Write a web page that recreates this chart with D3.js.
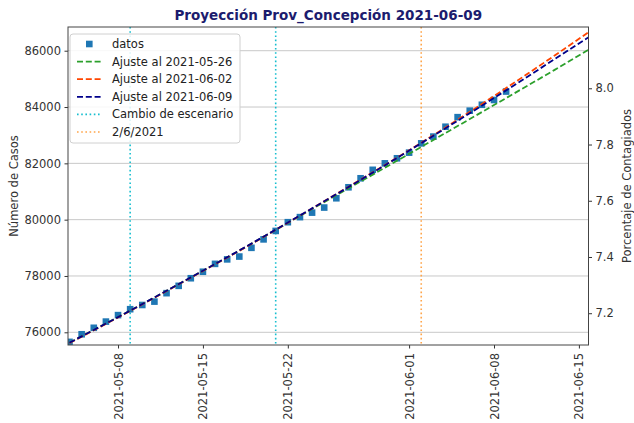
<!DOCTYPE html>
<html>
<head>
<meta charset="utf-8">
<script src="https://cdn.jsdelivr.net/npm/d3@7"></script>
<style>
  body { margin: 0; background: #fff; }
  svg { font-family: "DejaVu Sans", sans-serif; }
</style>
</head>
<body>
<script>
// datos diarios (casos acumulados)
var dataDates = ["2021-05-04","2021-05-05","2021-05-06","2021-05-07","2021-05-08","2021-05-09","2021-05-10",
  "2021-05-11","2021-05-12","2021-05-13","2021-05-14","2021-05-15","2021-05-16","2021-05-17","2021-05-18",
  "2021-05-19","2021-05-20","2021-05-21","2021-05-22","2021-05-23","2021-05-24","2021-05-25","2021-05-26",
  "2021-05-27","2021-05-28","2021-05-29","2021-05-30","2021-05-31","2021-06-01","2021-06-02","2021-06-03",
  "2021-06-04","2021-06-05","2021-06-06","2021-06-07","2021-06-08","2021-06-09"];
var dataCases = [75660,75930,76160,76380,76610,76820,76970,77090,77390,77650,77920,78150,78430,78590,78690,
  79000,79300,79600,79910,80090,80250,80430,80760,81150,81470,81770,82000,82180,82380,82710,82950,
  83300,83640,83870,84080,84250,84550];

// curvas de ajuste
var fitDates = ["2021-05-04","2021-05-09","2021-05-14","2021-05-19","2021-05-24","2021-05-29",
  "2021-06-03","2021-06-08","2021-06-13","2021-06-16"];
var fit0526 = [75630,76770,77945,79145,80380,81600,82830,84070,85320,86090];
var fit0602 = [75620,76760,77940,79140,80400,81680,83000,84390,85830,86720];
var fit0609 = [75630,76770,77950,79150,80400,81670,82980,84320,85700,86535];

var scenarioDates = ["2021-05-09","2021-05-21"];
var markDate = "2021-06-02";

var xTickDates = ["2021-05-08","2021-05-15","2021-05-22","2021-06-01","2021-06-08","2021-06-15"];
var yTicks = [76000,78000,80000,82000,84000,86000];
var y2Ticks = [7.2,7.4,7.6,7.8,8.0];

var parse = d3.utcParse("%Y-%m-%d");
var fmt = d3.utcFormat("%Y-%m-%d");

var W = 634, H = 423;
var margin = {top: 27, right: 45.5, bottom: 78, left: 68};
var width = W - margin.left - margin.right,
    height = H - margin.top - margin.bottom;

var svg = d3.select("body").append("svg")
  .attr("width", W).attr("height", H);

var g = svg.append("g")
  .attr("transform", "translate(" + margin.left + "," + margin.top + ")");

var x = d3.scaleUtc()
  .domain([new Date(Date.UTC(2021,4,3,21)), new Date(Date.UTC(2021,5,15,19))])
  .range([0, width]);
var y = d3.scaleLinear().domain([75549, 86842]).range([height, 0]);
var y2 = d3.scaleLinear().domain([7.087, 8.218]).range([height, 0]);

svg.append("defs").append("clipPath").attr("id", "clip")
  .append("rect").attr("width", width).attr("height", height);

// grid horizontal
g.append("g").selectAll("line")
  .data(yTicks).enter().append("line")
  .attr("x1", 0).attr("x2", width)
  .attr("y1", function(d) { return y(d); })
  .attr("y2", function(d) { return y(d); })
  .attr("stroke", "#c8c8c8").attr("stroke-width", 1);

var plot = g.append("g").attr("clip-path", "url(#clip)");

// lineas verticales
plot.selectAll(".scen")
  .data(scenarioDates).enter().append("line")
  .attr("x1", function(d) { return x(parse(d)); })
  .attr("x2", function(d) { return x(parse(d)); })
  .attr("y1", 0).attr("y2", height)
  .attr("stroke", "#17becf").attr("stroke-width", 1.6)
  .attr("stroke-dasharray", "1.6,2.6");

plot.append("line")
  .attr("x1", x(parse(markDate))).attr("x2", x(parse(markDate)))
  .attr("y1", 0).attr("y2", height)
  .attr("stroke", "#ffa54a").attr("stroke-width", 1.6)
  .attr("stroke-dasharray", "1.6,2.6");

// datos
plot.selectAll(".pt")
  .data(dataDates).enter().append("rect")
  .attr("x", function(d) { return x(parse(d)) - 3.3; })
  .attr("y", function(d, i) { return y(dataCases[i]) - 3.3; })
  .attr("width", 6.6).attr("height", 6.6)
  .attr("fill", "#1f77b4");

// ajustes
var fits = [
  {vals: fit0526, color: "#2ca02c", label: "Ajuste al 2021-05-26"},
  {vals: fit0602, color: "#ff4500", label: "Ajuste al 2021-06-02"},
  {vals: fit0609, color: "#00008b", label: "Ajuste al 2021-06-09"}
];
var line = d3.line()
  .x(function(d, i) { return x(parse(fitDates[i])); })
  .y(function(d) { return y(d); })
  .curve(d3.curveMonotoneX);

fits.forEach(function(f) {
  plot.append("path")
    .attr("d", line(f.vals))
    .attr("fill", "none")
    .attr("stroke", f.color)
    .attr("stroke-width", 1.8)
    .attr("stroke-dasharray", "6,2.8");
});

// ejes
var xAxis = g.append("g")
  .attr("transform", "translate(0," + height + ")")
  .call(d3.axisBottom(x).tickValues(xTickDates.map(parse)).tickFormat(fmt).tickSizeOuter(0).tickSize(3.5).tickPadding(3.5));
xAxis.selectAll("text")
  .attr("transform", "rotate(-90)")
  .attr("x", -8).attr("y", 0).attr("dy", "0.35em")
  .style("text-anchor", "end");

g.append("g")
  .call(d3.axisLeft(y).tickValues(yTicks).tickFormat(d3.format("d")).tickSizeOuter(0).tickSize(3.5).tickPadding(3.5));

g.append("g")
  .attr("transform", "translate(" + width + ",0)")
  .call(d3.axisRight(y2).tickValues(y2Ticks).tickFormat(d3.format(".1f")).tickSizeOuter(0).tickSize(3.5).tickPadding(3.5));

g.selectAll(".tick text").attr("font-size", "11.5px").attr("fill", "#333").attr("font-family", "DejaVu Sans");
g.selectAll(".tick line").attr("stroke", "#333");
g.selectAll(".domain").remove();

// marco
g.append("rect")
  .attr("width", width).attr("height", height)
  .attr("fill", "none").attr("stroke", "#444").attr("stroke-width", 1);

// etiquetas de ejes
svg.append("text")
  .attr("transform", "translate(14," + (margin.top + height / 2) + ") rotate(-90)")
  .attr("text-anchor", "middle").attr("dy", "0.35em")
  .attr("font-size", "11.5px").attr("fill", "#333")
  .text("Número de Casos");

svg.append("text")
  .attr("transform", "translate(627," + (margin.top + height / 2) + ") rotate(-90)")
  .attr("text-anchor", "middle").attr("dy", "0.35em")
  .attr("font-size", "11.5px").attr("fill", "#333")
  .text("Porcentaje de Contagiados");

// titulo
svg.append("text")
  .attr("x", margin.left + width / 2).attr("y", 20)
  .attr("text-anchor", "middle")
  .attr("font-size", "13.5px").attr("font-weight", "bold")
  .attr("fill", "#1c1c6e")
  .text("Proyección Prov_Concepción 2021-06-09");

// leyenda
var legendItems = [
  {type: "square", color: "#1f77b4", label: "datos"},
  {type: "dash", color: "#2ca02c", label: "Ajuste al 2021-05-26"},
  {type: "dash", color: "#ff4500", label: "Ajuste al 2021-06-02"},
  {type: "dash", color: "#00008b", label: "Ajuste al 2021-06-09"},
  {type: "dot", color: "#17becf", label: "Cambio de escenario"},
  {type: "dot", color: "#ffa54a", label: "2/6/2021"}
];
var lg = svg.append("g").attr("transform", "translate(70,34)");
lg.append("rect")
  .attr("width", 170).attr("height", 109).attr("rx", 3)
  .attr("fill", "#fff").attr("fill-opacity", 0.85)
  .attr("stroke", "#d0d0d0");
var items = lg.selectAll(".item")
  .data(legendItems).enter().append("g")
  .attr("transform", function(d, i) { return "translate(0," + (10 + i * 17.6) + ")"; });
items.each(function(d) {
  var s = d3.select(this);
  if (d.type == "square") {
    s.append("rect").attr("x", 16).attr("y", -3.3).attr("width", 6.6).attr("height", 6.6).attr("fill", d.color);
  } else {
    s.append("line").attr("x1", 7).attr("x2", 32).attr("y1", 0).attr("y2", 0)
      .attr("stroke", d.color).attr("stroke-width", d.type == "dash" ? 1.8 : 1.6)
      .attr("stroke-dasharray", d.type == "dash" ? "6,2.8" : "1.6,2.6");
  }
});
items.append("text")
  .attr("x", 42).attr("dy", "0.35em")
  .attr("font-size", "11.5px").attr("fill", "#222")
  .text(function(d) { return d.label; });
</script>
</body>
</html>
